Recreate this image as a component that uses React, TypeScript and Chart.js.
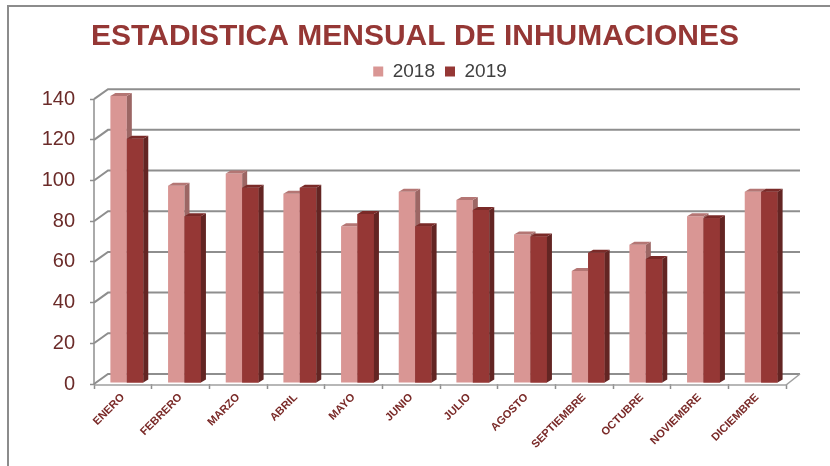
import React, { useEffect, useRef } from 'react';
import { Chart, registerables } from 'chart.js';

Chart.register(...registerables);

const TITLE = 'ESTADISTICA MENSUAL DE INHUMACIONES';
const MONTHS = ['ENERO', 'FEBRERO', 'MARZO', 'ABRIL', 'MAYO', 'JUNIO', 'JULIO', 'AGOSTO', 'SEPTIEMBRE', 'OCTUBRE', 'NOVIEMBRE', 'DICIEMBRE'];
const SERIES_NAMES = ['2018', '2019'];
const VALUES_2018 = [141, 97, 103, 93, 77, 94, 90, 73, 55, 68, 82, 94];
const VALUES_2019 = [120, 82, 96, 96, 83, 77, 85, 72, 64, 61, 81, 94];
const Y_TICKS = [0, 20, 40, 60, 80, 100, 120, 140];
const Y_MAX = 144;

const FRONT = ['#D99694', '#953735'];
const TOPS = ['#B47674', '#7A2A28'];
const SIDES = ['#9C6664', '#632523'];
const GRID = '#8E8E8E';

const DEPTH_X = 14;
const DEPTH_Y = -10;
const BAR_DX = 5;
const BAR_DY = -3;
const SHIFT_X = 4;
const SHIFT_Y = -1;

function drawExtras(ctx: CanvasRenderingContext2D, el: any, di: number) {
  const p = el.getProps(['x', 'y', 'base', 'width'], true);
  const left = p.x - p.width / 2;
  const right = p.x + p.width / 2;
  const top = Math.min(p.y, p.base);
  const base = Math.max(p.y, p.base);
  ctx.fillStyle = SIDES[di];
  ctx.beginPath();
  ctx.moveTo(right, top);
  ctx.lineTo(right + BAR_DX, top + BAR_DY);
  ctx.lineTo(right + BAR_DX, base + BAR_DY);
  ctx.lineTo(right, base);
  ctx.closePath();
  ctx.fill();
  ctx.fillStyle = TOPS[di];
  ctx.beginPath();
  ctx.moveTo(left, top);
  ctx.lineTo(left + BAR_DX, top + BAR_DY);
  ctx.lineTo(right + BAR_DX, top + BAR_DY);
  ctx.lineTo(right, top);
  ctx.closePath();
  ctx.fill();
}

const threeD = {
  id: 'threeD',
  beforeDraw(chart: any) {
    const { ctx, width, height } = chart;
    ctx.save();
    ctx.fillStyle = '#ffffff';
    ctx.fillRect(0, 0, width, height);
    ctx.strokeStyle = '#8C8C8C';
    ctx.lineWidth = 2;
    ctx.beginPath();
    ctx.moveTo(8, height);
    ctx.lineTo(8, 6);
    ctx.lineTo(width, 6);
    ctx.stroke();
    ctx.restore();
  },
  beforeDatasetsDraw(chart: any) {
    const { ctx, chartArea, scales } = chart;
    const y = scales.y;
    const left = chartArea.left;
    const right = chartArea.right;
    const bottom = y.getPixelForValue(0);
    ctx.save();
    ctx.strokeStyle = GRID;
    ctx.lineWidth = 2;
    y.ticks.forEach((t: any) => {
      const py = y.getPixelForValue(t.value);
      ctx.beginPath();
      ctx.moveTo(left, py);
      ctx.lineTo(left + DEPTH_X, py + DEPTH_Y);
      ctx.lineTo(right + DEPTH_X, py + DEPTH_Y);
      ctx.stroke();
    });
    ctx.strokeStyle = '#A0A0A0';
    ctx.lineWidth = 1.5;
    ctx.beginPath();
    ctx.moveTo(left, bottom + 1);
    ctx.lineTo(right, bottom + 1);
    ctx.lineTo(right + DEPTH_X, bottom + DEPTH_Y);
    ctx.stroke();
    ctx.strokeStyle = GRID;
    ctx.lineWidth = 1.5;
    ctx.beginPath();
    ctx.moveTo(left, y.getPixelForValue(Y_TICKS[Y_TICKS.length - 1]));
    ctx.lineTo(left, bottom + 1);
    ctx.stroke();
    ctx.restore();
    ctx.save();
    ctx.translate(SHIFT_X, SHIFT_Y);
  },
  afterDatasetsDraw(chart: any) {
    const { ctx } = chart;
    const m0 = chart.getDatasetMeta(0);
    const m1 = chart.getDatasetMeta(1);
    for (let i = 0; i < m0.data.length; i++) {
      drawExtras(ctx, m0.data[i], 0);
      m1.data[i].draw(ctx);
      drawExtras(ctx, m1.data[i], 1);
    }
    ctx.restore();
  },
};

export default function App() {
  const ref = useRef<HTMLCanvasElement | null>(null);
  useEffect(() => {
    if (!ref.current) return;
    const chart = new Chart(ref.current, {
      type: 'bar',
      data: {
        labels: MONTHS,
        datasets: [
          { label: SERIES_NAMES[0], data: VALUES_2018, backgroundColor: FRONT[0], borderWidth: 0, clip: false as any },
          { label: SERIES_NAMES[1], data: VALUES_2019, backgroundColor: FRONT[1], borderWidth: 0, clip: false as any },
        ],
      },
      options: {
        responsive: false,
        animation: false,
        devicePixelRatio: 1,
        layout: { padding: 0 },
        datasets: { bar: { categoryPercentage: 0.57, barPercentage: 1 } },
        plugins: {
          title: {
            display: true,
            text: TITLE,
            color: '#953735',
            font: { family: "'Liberation Sans', Arial, sans-serif", size: 30, weight: 'bold', lineHeight: 1 },
            padding: { top: 22, bottom: 0 },
          },
          legend: {
            display: true,
            position: 'top',
            fullSize: false,
            labels: {
              boxWidth: 10,
              boxHeight: 10,
              color: '#404040',
              font: { family: "'Liberation Sans', Arial, sans-serif", size: 19 },
              padding: 10,
              sort: (a: any, b: any) => a.datasetIndex - b.datasetIndex,
            },
          },
          tooltip: { enabled: false },
        },
        scales: {
          x: {
            grid: { display: true, drawOnChartArea: false, offset: true, tickColor: GRID, tickLength: 5, tickWidth: 1.5 },
            border: { display: false },
            ticks: {
              color: '#7A2A28',
              font: { family: "'Liberation Sans', Arial, sans-serif", size: 11, weight: 'bold' },
              minRotation: 45,
              maxRotation: 45,
              autoSkip: false,
              padding: 2,
            },
            afterFit: (s: any) => { s.height = 82; },
          },
          y: {
            min: 0,
            max: Y_MAX,
            grid: { display: true, drawOnChartArea: false, tickColor: GRID, tickLength: 4, tickWidth: 1.5 },
            border: { display: false },
            ticks: {
              color: '#6B2B29',
              font: { family: "'Liberation Sans', Arial, sans-serif", size: 20 },
              padding: 15,
            },
            afterBuildTicks: (s: any) => { s.ticks = Y_TICKS.map((v) => ({ value: v })); },
            afterFit: (s: any) => { s.width = 94; },
          },
          pad: {
            type: 'linear',
            position: 'right',
            display: true,
            grid: { display: false },
            border: { display: false },
            ticks: { display: false },
            afterFit: (s: any) => { s.width = 44; },
          },
        },
      },
      plugins: [threeD],
    });
    return () => chart.destroy();
  }, []);
  return (
    <div style={{ position: 'absolute', left: 0, top: 0, width: 830, height: 466 }}>
      <canvas ref={ref} width={830} height={466} />
    </div>
  );
}
